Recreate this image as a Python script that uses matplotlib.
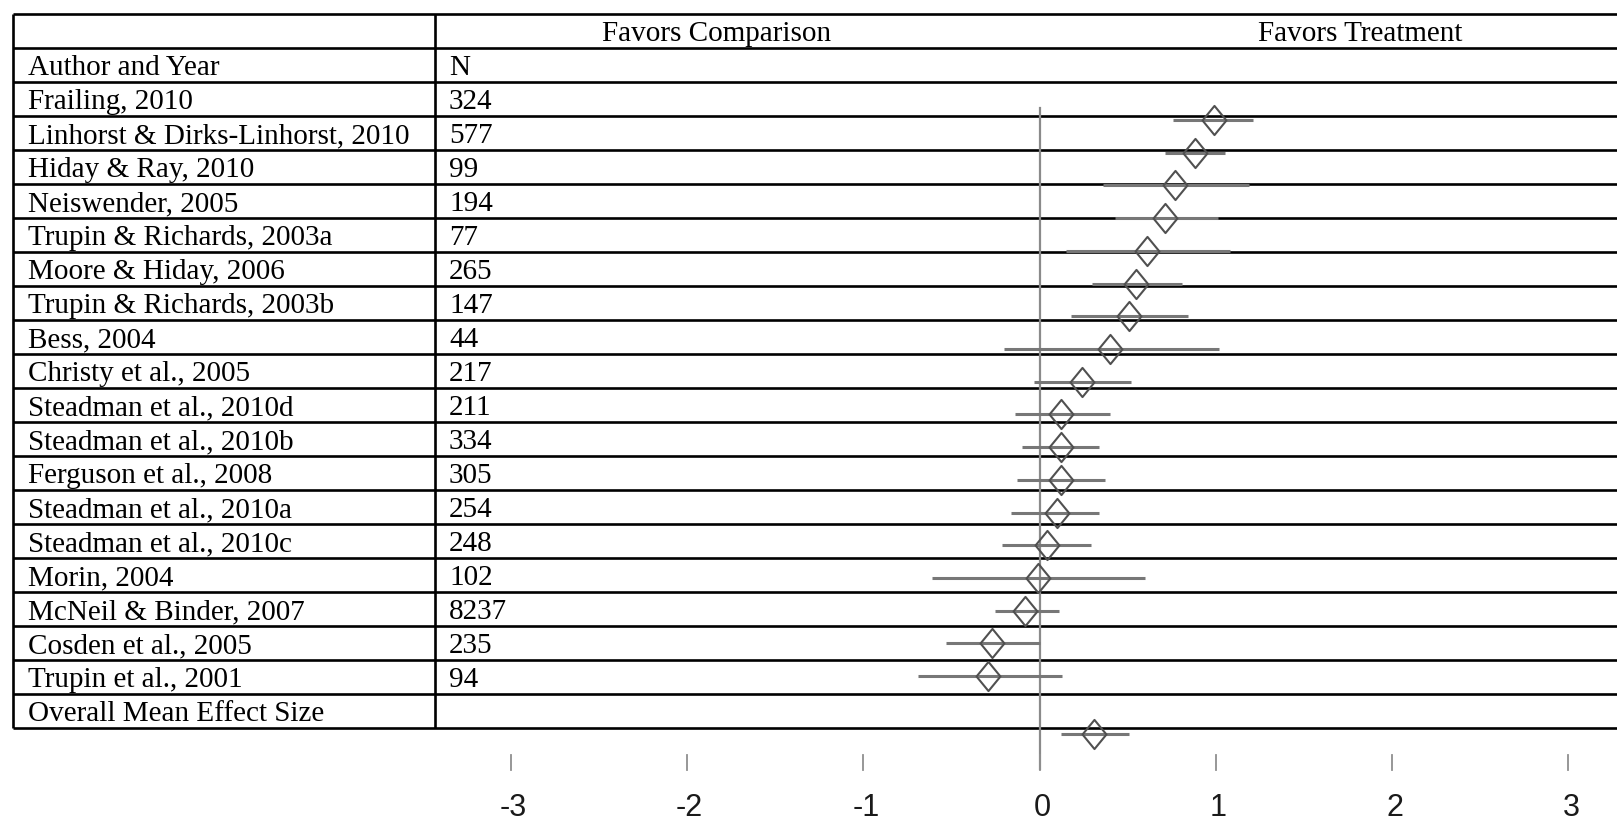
import matplotlib
matplotlib.use("Agg")
import matplotlib.pyplot as plt
from matplotlib.path import Path
import numpy as np

# ---------------- data ----------------
studies = [
    "Frailing, 2010", "Linhorst & Dirks-Linhorst, 2010", "Hiday & Ray, 2010",
    "Neiswender, 2005", "Trupin & Richards, 2003a", "Moore & Hiday, 2006",
    "Trupin & Richards, 2003b", "Bess, 2004", "Christy et al., 2005",
    "Steadman et al., 2010d", "Steadman et al., 2010b", "Ferguson et al., 2008",
    "Steadman et al., 2010a", "Steadman et al., 2010c", "Morin, 2004",
    "McNeil & Binder, 2007", "Cosden et al., 2005", "Trupin et al., 2001",
]
n_values = [324, 577, 99, 194, 77, 265, 147, 44, 217, 211, 334, 305, 254, 248,
            102, 8237, 235, 94]
effects = [0.99, 0.88, 0.77, 0.71, 0.61, 0.55, 0.51, 0.40, 0.24, 0.12, 0.12,
           0.12, 0.10, 0.04, -0.01, -0.08, -0.27, -0.29]
ci_low = [0.76, 0.71, 0.36, 0.43, 0.15, 0.30, 0.18, -0.20, -0.03, -0.14, -0.10,
          -0.13, -0.16, -0.21, -0.61, -0.25, -0.53, -0.69]
ci_high = [1.21, 1.05, 1.19, 1.01, 1.08, 0.81, 0.84, 1.02, 0.52, 0.40, 0.34,
           0.37, 0.34, 0.29, 0.60, 0.11, 0.00, 0.13]
overall_label = "Overall Mean Effect Size"
overall_effect = 0.31
overall_low = 0.12
overall_high = 0.51
header_left = "Favors Comparison"
header_right = "Favors Treatment"
col_titles = ["Author and Year", "N"]
tick_values = [-3, -2, -1, 0, 1, 2, 3]
tick_labels = ["-3", "-2", "-1", "0", "1", "2", "3"]

# ---------------- figure ----------------
W, H = 1617, 821
fig = plt.figure(figsize=(W / 100, H / 100), dpi=100)
fig.patch.set_facecolor("white")

# ---- table (pixel layout) ----
tax = fig.add_axes([0, 0, 1, 1])
tax.set_xlim(0, W)
tax.set_ylim(H, 0)
tax.axis("off")

serif = "Liberation Serif"
fs = 21
top = 13.7
row_h = 34.0
x_left = 13
x_div = 435
n_rows = 2 + len(studies) + 1

for k in range(n_rows + 1):
    tax.plot([x_left, W], [top + k * row_h] * 2, color="black", lw=1.9,
             solid_capstyle="butt")
for xv in (x_left, x_div):
    tax.plot([xv, xv], [top, top + n_rows * row_h], color="black", lw=1.9,
             solid_capstyle="butt")

def base(r):
    return top + r * row_h + 27.4

tax.text(717, base(0), header_left, family=serif, fontsize=fs, ha="center",
         va="baseline")
tax.text(1360, base(0), header_right, family=serif, fontsize=fs, ha="center",
         va="baseline")
tax.text(28, base(1), col_titles[0], family=serif, fontsize=fs, va="baseline")
tax.text(449, base(1), col_titles[1], family=serif, fontsize=fs, va="baseline")
for i, (s, n) in enumerate(zip(studies, n_values)):
    tax.text(28, base(2 + i), s, family=serif, fontsize=fs, va="baseline")
    tax.text(449, base(2 + i), str(n), family=serif, fontsize=fs, va="baseline")
tax.text(28, base(n_rows - 1), overall_label, family=serif, fontsize=fs,
         va="baseline")

# ---- forest plot ----
fax = fig.add_axes([0, 0, 1, 1], zorder=3)
fax.patch.set_visible(False)
fax.axis("off")
x0_px, unit_px = 1039.5, 176.3
fax.set_xlim((0 - x0_px) / unit_px, (W - x0_px) / unit_px)
y0_px, step_px = 120.0, 32.71
fax.set_ylim((H - y0_px) / step_px, (0 - y0_px) / step_px)

ypos = np.arange(len(studies))
y_overall = 18.78

# zero line
fax.plot([0, 0], [-0.37, 19.84], color="#8a8a8a", lw=1.6, zorder=1)

bar_col = "#777777"
fax.hlines(ypos, ci_low, ci_high, color=bar_col, lw=2.2, zorder=2)
fax.hlines([y_overall], [overall_low], [overall_high], color=bar_col, lw=2.2,
           zorder=2)

diamond = Path([(0, 1), (0.82, 0), (0, -1), (-0.82, 0), (0, 1)],
               [Path.MOVETO, Path.LINETO, Path.LINETO, Path.LINETO,
                Path.CLOSEPOLY])
fax.plot(effects, ypos, ls="none", marker=diamond, ms=21, mfc="none",
         mec="#505050", mew=1.5, zorder=3)
fax.plot([overall_effect], [y_overall], ls="none", marker=diamond, ms=21,
         mfc="none", mec="#505050", mew=1.5, zorder=3)

# axis ticks and labels
for tv, tl in zip(tick_values, tick_labels):
    fax.plot([tv, tv], [19.41, 19.87], color="#8f8f8f", lw=1.3)
    fax.text(tv + 0.015, 21.03, tl, family="Liberation Sans", fontsize=22,
             ha="center", va="center", color="#1a1a1a")

fig.savefig("out.png", dpi=100, facecolor="white")
